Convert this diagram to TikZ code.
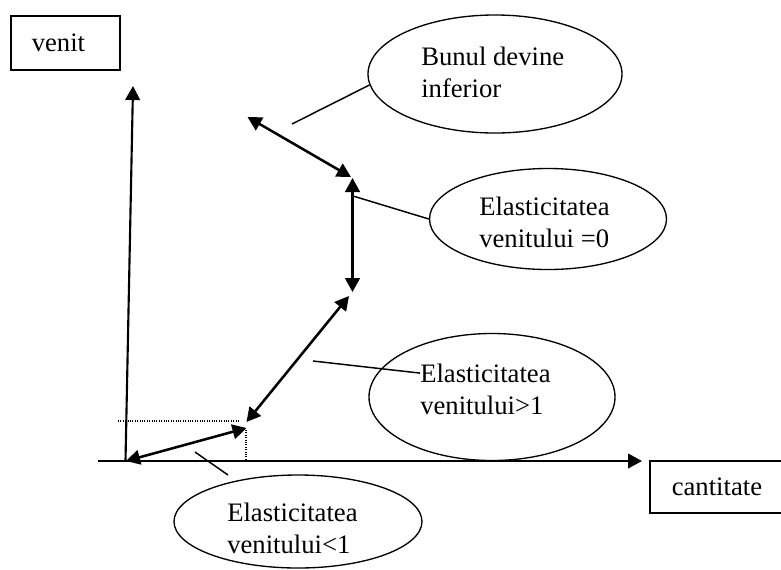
\documentclass[tikz,border=0pt]{standalone}
\usepackage{fontspec}
\setmainfont{Liberation Serif}
\usetikzlibrary{arrows.meta,shapes.geometric}
\begin{document}
\begin{tikzpicture}[x=0.75pt,y=-0.75pt,
        font=\fontsize{20}{24}\selectfont,
        >={Triangle[length=10.5pt,width=11pt]},
        axa/.style={line width=1.6pt,->},
        dubla/.style={line width=1.9pt,<->},
        bula/.style={ellipse,draw,line width=1pt,inner sep=0pt},
        caseta/.style={draw,line width=1.2pt,align=left,anchor=north west},
        scris/.style={inner sep=0pt,align=left,anchor=west},
        fir/.style={line width=1.1pt},
        punctat/.style={line width=0.8pt,dash pattern=on 0.8pt off 1pt}]
        \useasboundingbox (0,0) rectangle (781,569);

        % axe
        \coordinate (xst) at (98,461);
        \coordinate (xend) at (642,461);
        \coordinate (yst) at (125.5,461);
        \coordinate (yend) at (133,86);

        \node[caseta,minimum width=81.75pt,minimum height=40.5pt,inner xsep=15.75pt,text width=50.25pt] (venit) at (10,15) {venit};
        \node[caseta,minimum width=103pt,minimum height=39pt,inner xsep=16.5pt,text width=70pt] (cant) at (649,460) {cantitate};

        \draw[axa] (xst) -- (xend);
        \draw[axa] (yst) -- (yend);

        % puncte pe curba
        \coordinate (o) at (126,461);
        \coordinate (a1) at (246.5,428);
        \coordinate (b0) at (246.5,422);
        \coordinate (b1) at (349,296);
        \coordinate (c0) at (352.5,292);
        \coordinate (c1) at (352.5,178);
        \coordinate (d0) at (351,177);
        \coordinate (d1) at (247.5,117);

        \draw[dubla] (o) -- (a1);
        \draw[dubla] (b0) -- (b1);
        \draw[dubla] (c0) -- (c1);
        \draw[dubla] (d0) -- (d1);

        \coordinate (h0) at (118,421);
        \coordinate (h1) at (240,421);
        \coordinate (v0) at (246,430);
        \coordinate (v1) at (246,461);
        \draw[punctat] (h0) -- (h1) (v0) -- (v1);

        % elipse
        \node[bula,minimum width=190.5pt,minimum height=88.5pt] (e1) at (495,74) {};
        \node[bula,minimum width=177.75pt,minimum height=75.75pt] (e2) at (548,219) {};
        \node[bula,minimum width=184.5pt,minimum height=95.25pt] (e3) at (492,397) {};
        \node[bula,minimum width=186pt,minimum height=69.75pt] (e4) at (298,521.5) {};

        \node[scris] (t1) at (421,71.9) {Bunul devine\\inferior};
        \node[scris] (t2) at (479,221.9) {Elasticitatea\\venitului =0};
        \node[scris] (t3) at (420,389.4) {Elasticitatea\\venitului>1};
        \node[scris] (t4) at (227,528.4) {Elasticitatea\\venitului<1};

        \coordinate (l1) at (292,124);
        \coordinate (l2) at (353,196);
        \coordinate (l3) at (313,361);
        \coordinate (l4) at (195,452);
        \coordinate (l5) at (228,475);

        \draw[fir] (l1) -- (e1.185);
        \draw[fir] (l2) -- (e2.west);
        \draw[fir] (l3) -- (t3.166);
        \draw[fir] (l4) -- (l5);
    \end{tikzpicture}
\end{document}
